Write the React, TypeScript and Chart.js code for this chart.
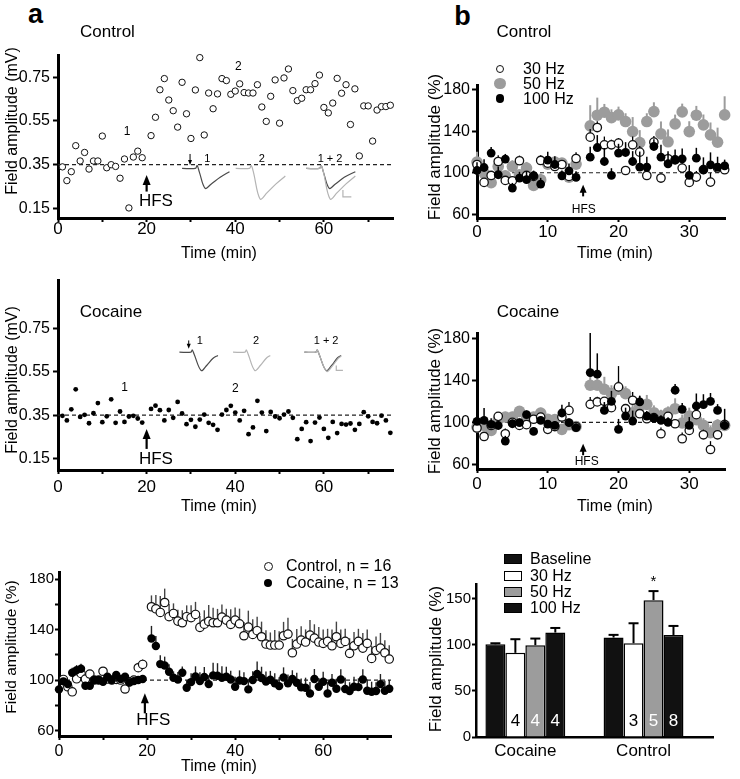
import React, { useEffect, useRef } from "react";
import { Chart, registerables } from "chart.js";

Chart.register(...registerables);

const FONT = '"Liberation Sans", Arial, Helvetica, sans-serif';
const BLACK = "#000000";
const GRAY = "#9c9c9c";
const TRACE_DARK = "#4a4a4a";
const TRACE_LIGHT = "#b4b4b4";

// ---------------- Panel a: single experiments (mV) ----------------
const aTimes = [1, 2, 3, 4, 5, 6, 7, 8, 9, 10, 11, 12, 13, 14, 15, 16, 17, 18, 19,
  21, 22, 23, 24, 25, 26, 27, 28, 29, 30, 31, 32, 33, 34, 35, 36, 37, 38, 39, 40,
  41, 42, 43, 44, 45, 46, 47, 48, 49, 50, 51, 52, 53, 54, 55, 56, 57, 58, 59, 60,
  61, 62, 63, 64, 65, 66, 67, 68, 69, 70, 71, 72, 73, 74, 75];
const aControlMv = [0.34, 0.277, 0.318, 0.437, 0.367, 0.406, 0.33, 0.367, 0.367, 0.481, 0.336, 0.35, 0.342, 0.288, 0.376, 0.152, 0.385, 0.412, 0.382,
  0.483, 0.567, 0.693, 0.744, 0.646, 0.597, 0.522, 0.727, 0.583, 0.47,
  0.692, 0.84, 0.486, 0.678, 0.606, 0.674, 0.744, 0.735, 0.672, 0.687,
  0.72, 0.68, 0.678, 0.678, 0.716, 0.614, 0.548, 0.663, 0.738, 0.54,
  0.747, 0.788, 0.689, 0.643, 0.654, 0.693, 0.693, 0.721, 0.76, 0.612,
  0.587, 0.632, 0.745, 0.677, 0.716, 0.534, 0.697, 0.39, 0.619, 0.619,
  0.458, 0.6, 0.616, 0.616, 0.622];
const aCocaineMv = [0.347, 0.326, 0.377, 0.469, 0.342, 0.352, 0.313, 0.359, 0.406, 0.318, 0.345, 0.423, 0.315, 0.367, 0.319, 0.344, 0.347, 0.335, 0.316,
  0.379, 0.394, 0.373, 0.326, 0.374, 0.338, 0.411, 0.358, 0.309, 0.329,
  0.297, 0.33, 0.353, 0.315, 0.306, 0.283, 0.353, 0.374, 0.393, 0.362,
  0.326, 0.37, 0.263, 0.294, 0.416, 0.362, 0.277, 0.365, 0.344, 0.336,
  0.353, 0.367, 0.338, 0.24, 0.287, 0.318, 0.231, 0.316, 0.339, 0.287,
  0.246, 0.319, 0.268, 0.31, 0.307, 0.312, 0.283, 0.31, 0.364, 0.345,
  0.319, 0.313, 0.348, 0.326, 0.269];
const aBaselineMv = 0.35;
const aYTicks = [0.15, 0.35, 0.55, 0.75];
const aXTicks = [0, 10, 20, 30, 40, 50, 60, 70];
const aXLabeled = [0, 20, 40, 60];

// sample traces (time, mV) drawn as insets
const ctrlTrace1 = [[28, 0.333], [31, 0.333], [31.4, 0.346], [31.9, 0.316], [33.2, 0.242], [34.6, 0.262], [36.6, 0.292], [38.7, 0.318]];
const ctrlTrace2 = [[40.1, 0.333], [43.2, 0.333], [43.6, 0.346], [44.1, 0.316], [45.6, 0.193], [47.2, 0.222], [49.2, 0.262], [51.3, 0.298]];
const ctrlTrace12a = [[56, 0.333], [59, 0.333], [59.4, 0.346], [59.9, 0.316], [61.2, 0.242], [62.6, 0.262], [64.6, 0.292], [67.1, 0.318]];
const ctrlTrace12b = [[56, 0.333], [59, 0.333], [59.4, 0.346], [59.9, 0.316], [61.4, 0.193], [63, 0.222], [65, 0.262], [67.1, 0.298]];
const ctrlScaleBar = [[64.3, 0.234], [64.3, 0.203], [66.2, 0.203]];
const cocTrace1 = [[27.4, 0.64], [30, 0.64], [30.3, 0.65], [30.7, 0.632], [32.3, 0.556], [33.6, 0.58], [35, 0.612], [36.1, 0.625]];
const cocTrace2 = [[39.5, 0.64], [42.2, 0.64], [42.5, 0.65], [42.9, 0.632], [44.4, 0.556], [45.7, 0.58], [47, 0.612], [47.9, 0.625]];
const cocTrace12a = [[55.6, 0.64], [58.2, 0.64], [58.5, 0.65], [58.9, 0.632], [60.5, 0.556], [61.8, 0.58], [63, 0.612], [63.9, 0.625]];
const cocTrace12b = [[55.6, 0.64], [58.2, 0.64], [58.5, 0.65], [58.9, 0.632], [60.6, 0.552], [61.9, 0.576], [63.1, 0.608], [63.9, 0.622]];
const cocScaleBar = [[62.8, 0.579], [62.8, 0.556], [64.3, 0.556]];

// ---------------- Panel a: summary (%) ----------------
const sumCtrlTimes = aTimes;
const sumCtrlPct = [100.5, 94.7, 90.7, 101, 105.3, 100.8, 104.8, 100, 100, 107, 100.8, 100, 100.5, 100, 92.9, 98.7, 100, 109.8, 112.4,
  158.2, 156.6, 153.7, 161.6, 150.3, 152.9, 146.8, 145.5, 150.3, 149.5,
  152.1, 141.8, 144.4, 146.6, 145.5, 145.5, 150, 147.6, 144.2, 147.6,
  144.7, 135.2, 142.1, 136.2, 139.2, 134.4, 128.6, 127.8, 127.8, 127.8,
  135.2, 136.5, 121.7, 128.6, 131.7, 130.2, 135.7, 133.3, 130.2, 129.1,
  130.7, 127.2, 134.4, 129.1, 130.7, 121.2, 127.2, 130.7, 125.4, 129.1,
  117.2, 123.5, 125.4, 121.7, 116.7];
const sumCtrlErr = [3, 3, 3, 3, 3, 3, 3, 3, 3, 3, 3, 3, 3, 3, 3, 3, 3, 4, 4,
  9, 11, 13, 11, 10, 8, 9, 10, 9, 10,
  10, 9, 11, 13, 12, 11, 10, 9, 12, 10,
  12, 11, 13, 12, 11, 12, 11, 10, 12, 11,
  11, 13, 11, 12, 11, 10, 12, 11, 12, 11,
  10, 13, 12, 11, 10, 12, 11, 10, 12, 11,
  10, 11, 12, 10, 11];
const sumCocTimes = [0, ...aTimes];
const sumCocPct = [92.6, 99, 96.8, 105.8, 107.9, 109, 95.5, 95.5, 100, 100, 98.7, 102.6, 100, 104, 100.8, 102.6, 98.1, 99.2, 100, 100.8,
  133, 127, 112.7, 111.6, 106.6, 101.9, 100.5, 105.8, 93.9, 98.4,
  102.9, 99.2, 102.4, 96.8, 103.7, 103.4, 101.9, 102.6, 100.5, 94.7,
  99.7, 99.2, 92.6, 100, 104.8, 101.6, 98.9, 100.3, 97.4, 95.2,
  102.1, 97.4, 100.8, 97.9, 94.2, 93.9, 89.4, 100.8, 94.7, 98.7,
  89.4, 97.9, 93.1, 100.5, 92.9, 91.3, 94.7, 94.4, 100.5, 91.5,
  90.7, 91.3, 96.8, 91.5, 93.1];
const sumCocErr = [2, 2, 2, 4, 4, 4, 3, 3, 3, 3, 3, 3, 3, 3, 3, 3, 2, 2, 2, 2,
  10, 8, 7, 7, 6, 5, 6, 5, 6, 7,
  8, 7, 8, 7, 10, 10, 9, 8, 7, 8,
  8, 7, 8, 7, 10, 9, 8, 7, 8, 7,
  8, 7, 7, 8, 7, 8, 9, 8, 7, 8,
  9, 7, 8, 8, 9, 7, 8, 7, 8, 9,
  8, 7, 8, 8, 7];
const sumYTicks = [60, 80, 100, 120, 140, 160, 180];
const sumYLabeled = [60, 100, 140, 180];
const pctBaseline = 100;

// ---------------- Panel b: frequencies (%) ----------------
const bTimes = [0, 1, 2, 3, 4, 5, 6, 7, 8, 9, 10, 11, 12, 13, 14,
  16, 17, 18, 19, 20, 21, 22, 23, 24, 25, 26, 27, 28, 29, 30, 31, 32, 33, 34, 35];
const bCtrl30 = [108, 90.7, 97.4, 110.9, 92.6, 92.3, 111.6, 97.4, 96.5, 111.9, 109.3, 106.1, 108, 96.5, 113.8,
  134.4, 143.7, 127, 127, 128.6, 102.2, 127, 119.9, 97.4, 129.6, 94.9, 113.5, 112.5, 104.5, 90.7, 95.8, 103, 91, 104.5, 102.9];
const bCtrl30Err = [4, 4, 4, 6, 3, 4, 5, 4, 4, 5, 4, 4, 4, 4, 6,
  8, 6, 8, 5, 5, 3, 8, 6, 5, 6, 5, 5, 4, 5, 7, 6, 5, 9, 4, 4];
const bCtrl50 = [110.3, 99.7, 90.4, 106.1, 97.1, 106.1, 98.1, 104.5, 87.8, 93.3, 108.4, 110.3, 109.3, 95.8, 108.4,
  145.3, 155.6, 158.5, 153.3, 155.9, 149.5, 139.8, 129.2, 149.5, 159.1, 137.6, 129.9, 147.2, 158.8, 139.8, 155.6, 146.3, 136.6, 129.6, 155.9];
const bCtrl50Err = [10, 6, 5, 6, 5, 6, 5, 6, 5, 6, 6, 5, 5, 6, 10,
  20, 17, 8, 8, 8, 8, 14, 12, 8, 9, 12, 12, 9, 8, 10, 9, 10, 12, 14, 18];
const bCtrl100 = [102.2, 105.1, 119, 98.1, 113.2, 85.2, 94.9, 93.3, 97.1, 89.1, 112.2, 108, 97.1, 101.9, 95.5,
  115.1, 124.4, 110.9, 97.4, 119, 119.6, 110.9, 105.5, 105.5, 125.4, 115.1, 108.7, 112.5, 113.5, 97.4, 114.1, 102.9, 107.7, 105.5, 106.7];
const bCtrl100Err = [8, 8, 6, 8, 5, 5, 6, 8, 5, 6, 8, 8, 5, 7, 6,
  10, 12, 13, 7, 9, 10, 10, 15, 10, 7, 12, 12, 10, 10, 10, 10, 12, 12, 10, 6];
const bCoc30 = [94.6, 86.5, 97, 105.8, 89.1, 100, 97.1, 97.8, 103, 105, 93.3, 96, 105.1, 111.5, 96,
  117.3, 119.6, 120.2, 114.1, 134, 113.1, 121.2, 108.3, 103.5, 104.5, 89.1, 105.8, 98.7, 84.3, 92.3, 107.4, 88.1, 74, 88.1, 97.8];
const bCoc30Err = [4, 4, 4, 4, 5, 4, 4, 4, 4, 4, 4, 4, 5, 8, 4,
  7, 5, 4, 4, 20, 4, 8, 4, 4, 4, 6, 4, 4, 6, 4, 4, 5, 8, 4, 4];
const bCoc50 = [95.5, 97.1, 92.3, 102.6, 105.1, 105.1, 110.6, 103.5, 105.1, 109, 102.9, 102.6, 93.3, 97.8, 96,
  135.6, 135.6, 131.7, 127.6, 131.7, 127.6, 109.3, 115.4, 117.3, 109.3, 106.1, 109.3, 113.1, 99.4, 106.1, 102.6, 97.1, 90.1, 97.1, 97.1];
const bCoc50Err = [5, 5, 5, 5, 5, 5, 5, 5, 5, 5, 5, 5, 5, 5, 5,
  10, 10, 12, 8, 8, 7, 8, 10, 9, 7, 6, 6, 10, 8, 8, 6, 7, 7, 6, 6];
const bCoc100 = [101, 101.9, 98, 97, 82.1, 98.7, 99.7, 107.4, 91.3, 101.9, 98.4, 97.1, 109, 99.7, 95,
  147.8, 146.2, 111.5, 120.2, 93.3, 106.1, 101.3, 119.6, 106, 104, 101.9, 100, 130.8, 112.5, 97.1, 115.7, 117, 120.2, 111.5, 97];
const bCoc100Err = [4, 12, 6, 4, 5, 4, 4, 4, 4, 4, 4, 4, 8, 4, 4,
  38, 20, 8, 10, 10, 8, 10, 6, 5, 5, 5, 5, 6, 6, 8, 12, 10, 8, 6, 16];
const bYTicks = [60, 100, 140, 180];
const bXTicks = [0, 10, 20, 30];

// ---------------- Panel b: bar summary ----------------
const barGroups = ["Cocaine", "Control"];
const barGroupIndex = [0, 1];
const barSeries = ["Baseline", "30 Hz", "50 Hz", "100 Hz"];
const barBaseline = [100.6, 107.9];
const barBaselineErr = [1.1, 2.9];
const bar30 = [91.3, 101.7];
const bar30Err = [14.8, 21.7];
const bar50 = [99.6, 148.5];
const bar50Err = [7.2, 9.8];
const bar100 = [113.3, 110.7];
const bar100Err = [5, 9.8];
const bar30N = [4, 3];
const bar50N = [4, 5];
const bar100N = [4, 8];
const bar50Marks = ["", "*"];
const barYTicks = [0, 50, 100, 150];

// ---------------- layout ----------------
const WY = 56, PT = 18, PR = 18, HX = 44;
const A1 = { l: 58, t: 55, r: 393, b: 218 };
const A2 = { l: 58, t: 280, r: 393, b: 470 };
const A3 = { l: 59, t: 572, r: 391, b: 736 };
const B1 = { l: 477, t: 85, r: 725, b: 218 };
const B2 = { l: 477, t: 333, r: 725, b: 469 };
const B3 = { l: 476, t: 584, r: 713, b: 737 };
const rectOf = (a: any) => ({ x: a.l - WY, y: a.t - PT, w: a.r - a.l + WY + PR, h: a.b - a.t + PT + HX });

// ---------------- helpers ----------------
const pts = (xs: number[], ys: number[]) => xs.map((x, i) => ({ x, y: ys[i] }));
const pairs = (p: number[][]) => p.map(([x, y]) => ({ x, y }));

function linY(min: number, max: number, ticks: number[], label: (v: number) => string, o: any) {
  return {
    type: "linear", min, max,
    afterFit: (s: any) => { s.width = WY; },
    afterBuildTicks: (s: any) => { s.ticks = ticks.map((v) => ({ value: v })); },
    ticks: { autoSkip: false, color: BLACK, font: { family: FONT, size: o.font }, padding: o.pad, callback: (v: any) => label(v) },
    grid: { display: true, drawOnChartArea: false, drawTicks: true, tickLength: o.tl, tickWidth: 2, tickColor: BLACK, color: BLACK },
    border: { display: true, color: BLACK, width: o.bw },
  };
}
function linX(min: number, max: number, ticks: number[], label: (v: number) => string, o: any) {
  return {
    type: "linear", min, max, offset: false,
    afterFit: (s: any) => { s.height = HX; },
    afterBuildTicks: (s: any) => { s.ticks = ticks.map((v) => ({ value: v })); },
    ticks: { autoSkip: false, maxRotation: 0, color: BLACK, font: { family: FONT, size: o.font }, padding: o.pad, callback: (v: any) => label(v) },
    grid: { display: true, offset: false, drawOnChartArea: false, drawTicks: o.tl > 0, tickLength: o.tl, tickWidth: 2, tickColor: BLACK, color: BLACK },
    border: { display: true, color: BLACK, width: o.bw },
  };
}
function baseOptions(scales: any, annot: any) {
  return {
    responsive: false, maintainAspectRatio: false, animation: false, devicePixelRatio: 1, events: [],
    layout: { padding: { left: 0, top: PT, right: PR, bottom: 0 } },
    plugins: { legend: { display: false }, tooltip: { enabled: false }, annot },
    scales,
  };
}
const openDs = (data: any, r: number, bw: number, extra: any = {}) => ({
  data, pointRadius: r, pointBorderWidth: bw, pointBackgroundColor: "#ffffff", pointBorderColor: "#111111",
  backgroundColor: "#ffffff", borderColor: "#111111", showLine: false, clip: false, ...extra,
});
const filledDs = (data: any, r: number, color: string, extra: any = {}) => ({
  data, pointRadius: r, pointBorderWidth: 0, pointBackgroundColor: color, pointBorderColor: color,
  backgroundColor: color, borderColor: color, showLine: false, clip: false, ...extra,
});
const dashedDs = (x0: number, x1: number, y: number) => ({
  data: [{ x: x0, y }, { x: x1, y }], showLine: true, borderColor: "#222222", borderWidth: 1.2,
  borderDash: [4, 3], pointRadius: 0, fill: false, order: 20,
});
const traceDs = (p: number[][], color: string, tension = 0.35) => ({
  data: pairs(p), showLine: true, borderColor: color, borderWidth: 1.2, pointRadius: 0, tension, clip: false, order: 15, fill: false,
});

function drawErrors(chart: any, i: number) {
  const ds = chart.data.datasets[i];
  const meta = chart.getDatasetMeta(i);
  const ys = chart.scales.y;
  const ctx = chart.ctx;
  ctx.save();
  ctx.strokeStyle = ds.errColor || BLACK;
  ctx.lineWidth = ds.errWidth || 1.3;
  meta.data.forEach((el: any, j: number) => {
    const d = ds.data[j];
    const v = typeof d === "number" ? d : d.y;
    const e = ds.errors[j];
    if (!e) return;
    const y0 = ys.getPixelForValue(v);
    const y1 = ys.getPixelForValue(v + e);
    ctx.beginPath(); ctx.moveTo(el.x, y0); ctx.lineTo(el.x, y1); ctx.stroke();
    if (ds.errCap) { ctx.beginPath(); ctx.moveTo(el.x - ds.errCap, y1); ctx.lineTo(el.x + ds.errCap, y1); ctx.stroke(); }
  });
  ctx.restore();
}
const errorBars = {
  id: "errorBars",
  beforeDatasetDraw(chart: any, args: any) {
    const ds = chart.data.datasets[args.index];
    if (ds.errors && !ds.errAfter) drawErrors(chart, args.index);
  },
  afterDatasetsDraw(chart: any) {
    chart.data.datasets.forEach((ds: any, i: number) => { if (ds.errors && ds.errAfter) drawErrors(chart, i); });
  },
};
const annotPlugin = {
  id: "annot",
  afterDatasetsDraw(chart: any, _args: any, opts: any) {
    const ctx = chart.ctx;
    const xs = chart.scales.x, ys = chart.scales.y;
    const arrows = (opts && opts.arrows) || [];
    const texts = (opts && opts.texts) || [];
    for (let k = 0; k < arrows.length; k++) {
      const a = arrows[k];
      const px = xs.getPixelForValue(a.x);
      const p0 = ys.getPixelForValue(a.y0);
      const p1 = ys.getPixelForValue(a.y1);
      const dir = Math.sign(p1 - p0);
      ctx.save();
      ctx.strokeStyle = a.color || BLACK; ctx.fillStyle = a.color || BLACK; ctx.lineWidth = a.w;
      ctx.beginPath(); ctx.moveTo(px, p0); ctx.lineTo(px, p1 - dir * a.head * 0.8); ctx.stroke();
      ctx.beginPath(); ctx.moveTo(px, p1); ctx.lineTo(px - a.hw, p1 - dir * a.head); ctx.lineTo(px + a.hw, p1 - dir * a.head); ctx.closePath(); ctx.fill();
      ctx.restore();
    }
    for (let k = 0; k < texts.length; k++) {
      const t = texts[k];
      ctx.save();
      ctx.font = `${t.size}px ${FONT}`; ctx.fillStyle = t.color || BLACK;
      ctx.textAlign = "center"; ctx.textBaseline = "middle";
      ctx.fillText(t.text, xs.getPixelForValue(t.x), ys.getPixelForValue(t.y));
      ctx.restore();
    }
    chart.data.datasets.forEach((ds: any, i: number) => {
      const meta = chart.getDatasetMeta(i);
      if (ds.counts) {
        meta.data.forEach((el: any, j: number) => {
          ctx.save();
          ctx.font = `${opts.countSize}px ${FONT}`; ctx.fillStyle = ds.countColor;
          ctx.textAlign = "center"; ctx.textBaseline = "middle";
          ctx.fillText(String(ds.counts[j]), el.x, ys.getPixelForValue(opts.countY));
          ctx.restore();
        });
      }
      if (ds.marks) {
        meta.data.forEach((el: any, j: number) => {
          if (!ds.marks[j]) return;
          const top = ys.getPixelForValue(ds.data[j].y + ds.errors[j]);
          ctx.save();
          ctx.font = `15px ${FONT}`; ctx.fillStyle = BLACK;
          ctx.textAlign = "center"; ctx.textBaseline = "middle";
          ctx.fillText(ds.marks[j], el.x, top - 9);
          ctx.restore();
        });
      }
    });
  },
};

// ---------------- chart builders ----------------
const aYLabel = (v: number) => v.toFixed(2);
const aXLabel = (v: number) => (aXLabeled.includes(v) ? String(v) : "");

function buildA1() {
  return {
    type: "scatter",
    data: {
      datasets: [
        openDs(pts(aTimes, aControlMv), 3.2, 1, { order: 1 }),
        dashedDs(0, 75.6, aBaselineMv),
        traceDs(ctrlTrace1, TRACE_DARK), traceDs(ctrlTrace2, TRACE_LIGHT),
        traceDs(ctrlTrace12b, TRACE_LIGHT), traceDs(ctrlTrace12a, TRACE_DARK),
        traceDs(ctrlScaleBar, TRACE_LIGHT, 0),
      ],
    },
    options: baseOptions({
      x: linX(0, 75.6, aXTicks, aXLabel, { font: 17, pad: -3, tl: 4, bw: 3 }),
      y: linY(0.106, 0.852, aYTicks, aYLabel, { font: 16, pad: 3, tl: 5, bw: 3 }),
    }, {
      arrows: [{ x: 20, y0: 0.227, y1: 0.303, w: 2.2, head: 10, hw: 4 }, { x: 29.8, y0: 0.399, y1: 0.348, w: 1, head: 5, hw: 2 }],
      texts: [
        { text: "HFS", x: 22.1, y: 0.181, size: 17 },
        { text: "1", x: 15.6, y: 0.5, size: 12 }, { text: "2", x: 40.7, y: 0.8, size: 12 },
        { text: "1", x: 33.7, y: 0.375, size: 11 }, { text: "2", x: 46, y: 0.375, size: 11 }, { text: "1 + 2", x: 61.4, y: 0.375, size: 11 },
      ],
    }),
    plugins: [errorBars, annotPlugin],
  };
}
function buildA2() {
  return {
    type: "scatter",
    data: {
      datasets: [
        filledDs(pts(aTimes, aCocaineMv), 2.4, BLACK, { order: 1 }),
        dashedDs(0, 75.6, aBaselineMv),
        traceDs(cocTrace1, TRACE_DARK), traceDs(cocTrace2, TRACE_LIGHT),
        traceDs(cocTrace12b, TRACE_LIGHT), traceDs(cocTrace12a, TRACE_DARK),
        traceDs(cocScaleBar, TRACE_LIGHT, 0),
      ],
    },
    options: baseOptions({
      x: linX(0, 75.6, aXTicks, aXLabel, { font: 17, pad: 3, tl: 4, bw: 3 }),
      y: linY(0.098, 0.972, aYTicks, aYLabel, { font: 16, pad: 3, tl: 5, bw: 3 }),
    }, {
      arrows: [{ x: 20, y0: 0.195, y1: 0.287, w: 2.2, head: 10, hw: 4 }, { x: 29.5, y0: 0.694, y1: 0.656, w: 1, head: 5, hw: 2 }],
      texts: [
        { text: "HFS", x: 22.1, y: 0.149, size: 17 },
        { text: "1", x: 15, y: 0.476, size: 12 }, { text: "2", x: 40, y: 0.471, size: 12 },
        { text: "1", x: 32, y: 0.69, size: 11 }, { text: "2", x: 44.7, y: 0.69, size: 11 }, { text: "1 + 2", x: 60.5, y: 0.69, size: 11 },
      ],
    }),
    plugins: [errorBars, annotPlugin],
  };
}
function buildA3() {
  return {
    type: "scatter",
    data: {
      datasets: [
        filledDs(pts(sumCocTimes, sumCocPct), 4.2, BLACK, { order: 1, errors: sumCocErr, errColor: "#222222", errWidth: 1.4 }),
        openDs(pts(sumCtrlTimes, sumCtrlPct), 4.2, 1.2, { order: 2, errors: sumCtrlErr, errColor: "#444444", errWidth: 1.4 }),
        dashedDs(0, 75.4, pctBaseline),
      ],
    },
    options: baseOptions({
      x: linX(0, 75.4, aXTicks, aXLabel, { font: 16, pad: 2, tl: 4, bw: 3 }),
      y: linY(55.6, 185.8, sumYTicks, (v) => (sumYLabeled.includes(v) ? String(v) : ""), { font: 15, pad: 1, tl: 4, bw: 3 }),
    }, {
      arrows: [{ x: 19.5, y0: 73.6, y1: 89.5, w: 2.2, head: 10, hw: 4 }],
      texts: [{ text: "HFS", x: 21.4, y: 68.3, size: 17 }],
    }),
    plugins: [errorBars, annotPlugin],
  };
}
function freqDatasets(v30: number[], e30: number[], v50: number[], e50: number[], v100: number[], e100: number[]) {
  return [
    filledDs(pts(bTimes, v100), 4.4, BLACK, { order: 1, errors: e100, errColor: BLACK, errWidth: 1.5 }),
    openDs(pts(bTimes, v30), 4.2, 1.3, { order: 2, errors: e30, errColor: BLACK, errWidth: 1.3 }),
    filledDs(pts(bTimes, v50), 5.8, GRAY, { order: 3, errors: e50, errColor: GRAY, errWidth: 2 }),
    dashedDs(0, 35.05, pctBaseline),
  ];
}
function buildB1() {
  return {
    type: "scatter",
    data: { datasets: freqDatasets(bCtrl30, bCtrl30Err, bCtrl50, bCtrl50Err, bCtrl100, bCtrl100Err) },
    options: baseOptions({
      x: linX(0, 35.05, bXTicks, (v) => String(v), { font: 17, pad: 0, tl: 4, bw: 3 }),
      y: linY(56.3, 184.8, bYTicks, (v) => String(v), { font: 16, pad: 2, tl: 5, bw: 3 }),
    }, {
      arrows: [{ x: 15, y0: 77.2, y1: 88.4, w: 2, head: 8, hw: 3.5 }],
      texts: [{ text: "HFS", x: 15.1, y: 64.3, size: 12 }],
    }),
    plugins: [errorBars, annotPlugin],
  };
}
function buildB2() {
  return {
    type: "scatter",
    data: { datasets: freqDatasets(bCoc30, bCoc30Err, bCoc50, bCoc50Err, bCoc100, bCoc100Err) },
    options: baseOptions({
      x: linX(0, 35.05, bXTicks, (v) => String(v), { font: 17, pad: 1, tl: 4, bw: 3 }),
      y: linY(55.3, 185.7, bYTicks, (v) => String(v), { font: 16, pad: 2, tl: 5, bw: 3 }),
    }, {
      arrows: [{ x: 15, y0: 68.5, y1: 79.6, w: 2, head: 8, hw: 3.5 }],
      texts: [{ text: "HFS", x: 15.5, y: 62.1, size: 12 }],
    }),
    plugins: [errorBars, annotPlugin],
  };
}
const barDs = (label: string, vals: number[], errs: number[], bg: string, extra: any = {}) => ({
  type: "bar", label, data: vals.map((v, i) => ({ x: barGroupIndex[i], y: v })),
  backgroundColor: bg, borderColor: BLACK, borderWidth: 1.5, borderSkipped: "bottom",
  categoryPercentage: 0.676, barPercentage: 1,
  errors: errs, errAfter: true, errCap: 5, errWidth: 2, errColor: BLACK, ...extra,
});
function buildB3() {
  return {
    type: "bar",
    data: {
      datasets: [
        barDs(barSeries[0], barBaseline, barBaselineErr, "#111111"),
        barDs(barSeries[1], bar30, bar30Err, "#ffffff", { counts: bar30N, countColor: BLACK }),
        barDs(barSeries[2], bar50, bar50Err, GRAY, { counts: bar50N, countColor: "#ffffff", marks: bar50Marks }),
        barDs(barSeries[3], bar100, bar100Err, "#111111", { counts: bar100N, countColor: "#ffffff" }),
      ],
    },
    options: baseOptions({
      x: linX(-0.4176, 1.588, barGroupIndex, (v) => barGroups[v] || "", { font: 17, pad: 4, tl: 0, bw: 2.5 }),
      y: linY(0, 166, barYTicks, (v) => String(v), { font: 15, pad: 1, tl: 4, bw: 2.5 }),
    }, { countY: 17, countSize: 17 }),
    plugins: [errorBars, annotPlugin],
  };
}

// ---------------- components ----------------
function ChartCanvas({ area, build }: any) {
  const ref = useRef<HTMLCanvasElement | null>(null);
  const r = rectOf(area);
  useEffect(() => {
    const chart = new Chart(ref.current as any, build() as any);
    return () => chart.destroy();
  }, []);
  return <canvas ref={ref} width={r.w} height={r.h} style={{ position: "absolute", left: r.x, top: r.y, width: r.w, height: r.h }} />;
}

function Txt({ x, y, children, size = 16, bold = false, rot = 0, left = false }: any) {
  return (
    <div style={{
      position: "absolute", left: x, top: y, whiteSpace: "nowrap", color: "#000", fontFamily: FONT,
      fontSize: size, fontWeight: bold ? "bold" : "normal", lineHeight: 1,
      transform: `${left ? "translate(0,-50%)" : "translate(-50%,-50%)"} rotate(${rot}deg)`,
    }}>{children}</div>
  );
}
function Dot({ x, y, r, fill, stroke, bw = 0 }: any) {
  return <div style={{ position: "absolute", left: x - r, top: y - r, width: 2 * r, height: 2 * r, boxSizing: "border-box", borderRadius: "50%", background: fill, border: bw ? `${bw}px solid ${stroke}` : "none" }} />;
}
function Box({ x, y, w, h, fill }: any) {
  return <div style={{ position: "absolute", left: x, top: y - h / 2, width: w, height: h, boxSizing: "border-box", background: fill, border: "1.5px solid #000" }} />;
}

export default function App() {
  return (
    <div style={{ position: "fixed", left: 0, top: 0, width: 740, height: 779, background: "#fff", overflow: "hidden" }}>
      <ChartCanvas area={A1} build={buildA1} />
      <ChartCanvas area={A2} build={buildA2} />
      <ChartCanvas area={A3} build={buildA3} />
      <ChartCanvas area={B1} build={buildB1} />
      <ChartCanvas area={B2} build={buildB2} />
      <ChartCanvas area={B3} build={buildB3} />

      <Txt x={35.5} y={13.5} size={27} bold>a</Txt>
      <Txt x={462.5} y={16} size={27} bold>b</Txt>

      <Txt x={107.5} y={31} size={17}>Control</Txt>
      <Txt x={524} y={31} size={17}>Control</Txt>
      <Txt x={111} y={311} size={17}>Cocaine</Txt>
      <Txt x={528} y={311} size={17}>Cocaine</Txt>

      <Txt x={12} y={121} size={16} rot={-90}>Field amplitude (mV)</Txt>
      <Txt x={12} y={380} size={16} rot={-90}>Field amplitude (mV)</Txt>
      <Txt x={11} y={647} size={15.5} rot={-90}>Field amplitude (%)</Txt>
      <Txt x={434} y={147} size={17} rot={-90}>Field amplitude (%)</Txt>
      <Txt x={434} y={401} size={17} rot={-90}>Field amplitude (%)</Txt>
      <Txt x={435} y={659} size={17} rot={-90}>Field amplitude (%)</Txt>

      <Txt x={219} y={253} size={16}>Time (min)</Txt>
      <Txt x={219} y={506} size={16}>Time (min)</Txt>
      <Txt x={219} y={766} size={16}>Time (min)</Txt>
      <Txt x={615} y={253} size={16}>Time (min)</Txt>
      <Txt x={615} y={506} size={16}>Time (min)</Txt>

      {/* legend a summary */}
      <Dot x={268} y={566} r={4.5} fill="#fff" stroke="#111" bw={1.2} />
      <Txt x={286} y={566} size={16} left>Control, n = 16</Txt>
      <Dot x={268} y={583} r={4.2} fill="#000" />
      <Txt x={286} y={583} size={16} left>Cocaine, n = 13</Txt>

      {/* legend b frequencies */}
      <Dot x={500} y={69} r={4.3} fill="#fff" stroke="#111" bw={1.3} />
      <Txt x={523} y={68.5} size={16} left>30 Hz</Txt>
      <Dot x={500} y={83.5} r={5.8} fill={GRAY} />
      <Txt x={523} y={83.5} size={16} left>50 Hz</Txt>
      <Dot x={500} y={98.5} r={4.4} fill="#000" />
      <Txt x={523} y={99} size={16} left>100 Hz</Txt>

      {/* legend b bars */}
      <Box x={504} y={559} w={18} h={10} fill="#111" />
      <Txt x={530} y={559} size={16} left>{barSeries[0]}</Txt>
      <Box x={504} y={575.7} w={18} h={10} fill="#fff" />
      <Txt x={530} y={575.7} size={16} left>{barSeries[1]}</Txt>
      <Box x={504} y={592.3} w={18} h={10} fill={GRAY} />
      <Txt x={530} y={592.3} size={16} left>{barSeries[2]}</Txt>
      <Box x={504} y={608.3} w={18} h={10} fill="#111" />
      <Txt x={530} y={608.3} size={16} left>{barSeries[3]}</Txt>
    </div>
  );
}
